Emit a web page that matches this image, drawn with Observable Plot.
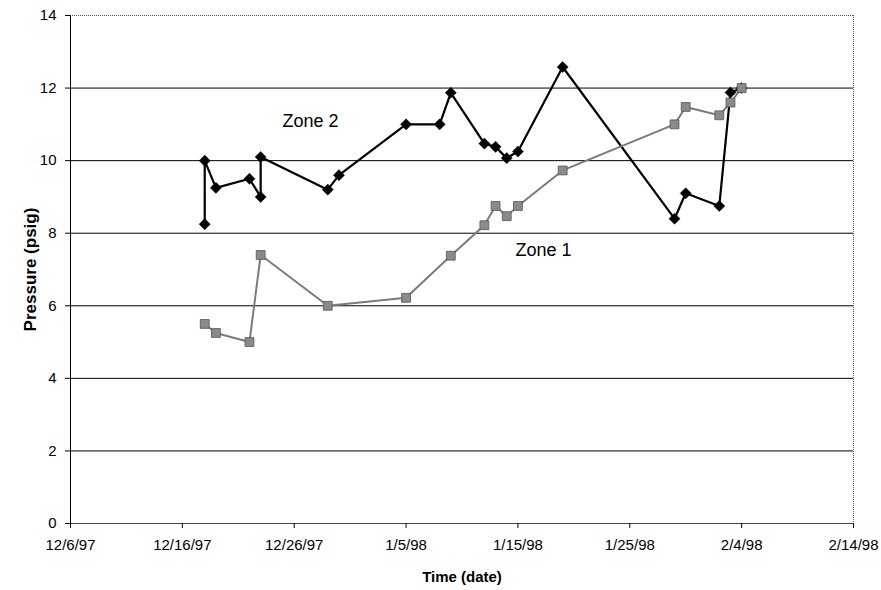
<!DOCTYPE html>
<html><head><meta charset="utf-8">
<script src="https://cdn.jsdelivr.net/npm/d3@7"></script>
<script src="https://cdn.jsdelivr.net/npm/@observablehq/plot@0.6"></script>
<style>body{margin:0;background:#fff}#chart svg{display:block}</style>
</head><body><div id="chart"></div>
<script>
// Zone 2 (black diamonds)
const zone2Dates = ["1997-12-18","1997-12-18","1997-12-19","1997-12-22","1997-12-23","1997-12-23","1997-12-29","1997-12-30","1998-01-05","1998-01-08","1998-01-09","1998-01-12","1998-01-13","1998-01-14","1998-01-15","1998-01-19","1998-01-29","1998-01-30","1998-02-02","1998-02-03","1998-02-04"];
const zone2Pressure = [8.25,10.0,9.25,9.5,9.0,10.1,9.2,9.6,11.0,11.0,11.87,10.47,10.38,10.07,10.25,12.58,8.4,9.1,8.75,11.88,12.0];
// Zone 1 (gray squares)
const zone1Dates = ["1997-12-18","1997-12-19","1997-12-22","1997-12-23","1997-12-29","1998-01-05","1998-01-09","1998-01-12","1998-01-13","1998-01-14","1998-01-15","1998-01-19","1998-01-29","1998-01-30","1998-02-02","1998-02-03","1998-02-04"];
const zone1Pressure = [5.5,5.25,5.0,7.4,6.0,6.22,7.38,8.22,8.75,8.47,8.75,9.73,11.0,11.48,11.25,11.6,12.0];
// Axis ticks
const xTickDates = ["1997-12-06","1997-12-16","1997-12-26","1998-01-05","1998-01-15","1998-01-25","1998-02-04","1998-02-14"];
const yTicks = [0,2,4,6,8,10,12,14];
const gridValues = [2,4,6,8,10,12];
// Series labels
const labelNames = ["Zone 2","Zone 1"];
const labelDates = ["1997-12-27T11:00","1998-01-17T07:00"];
const labelPressure = [11.08,7.52];

const parse = d3.utcParse("%Y-%m-%d");
const parseT = d3.utcParse("%Y-%m-%dT%H:%M");
const zone2 = zone2Dates.map((d,i)=>({date: parse(d), p: zone2Pressure[i]}));
const zone1 = zone1Dates.map((d,i)=>({date: parse(d), p: zone1Pressure[i]}));
const labels = labelNames.map((n,i)=>({name:n, date: parseT(labelDates[i]), p: labelPressure[i]}));
const xTicks = xTickDates.map(parse);
const xDomain = [xTicks[0], xTicks[xTicks.length-1]];
const fmt = d => `${d.getUTCMonth()+1}/${d.getUTCDate()}/${String(d.getUTCFullYear()).slice(2)}`;

const chart = Plot.plot({
  width: 881, height: 590,
  marginLeft: 70, marginRight: 28, marginTop: 15, marginBottom: 67,
  style: {fontFamily: "'Liberation Sans', Arial, sans-serif", fontSize: "15px", background: "#fff", color: "#000"},
  x: {type: "utc", domain: xDomain},
  y: {domain: [0, 14]},
  marks: [
    Plot.ruleY(gridValues, {stroke: "#000", strokeWidth: 1}),
    Plot.ruleY([14], {stroke: "#555", strokeDasharray: "1,1"}),
    Plot.ruleX([xDomain[1]], {stroke: "#555", strokeDasharray: "1,1"}),
    Plot.ruleY([0], {stroke: "#444"}),
    Plot.ruleX([xDomain[0]], {stroke: "#000"}),
    Plot.axisX({ticks: xTicks, tickFormat: fmt, tickSize: 5, tickPadding: 11, label: null}),
    Plot.axisY({ticks: yTicks, tickSize: 5, tickPadding: 9, label: null}),
    Plot.text(["Time (date)"], {frameAnchor: "bottom", dy: 58, fontWeight: "bold", fontSize: 15}),
    Plot.text(["Pressure (psig)"], {frameAnchor: "left", textAnchor: "middle", dx: -40, rotate: -90, fontWeight: "bold", fontSize: 17}),
    Plot.line(zone2, {x: "date", y: "p", stroke: "#000", strokeWidth: 2.2}),
    Plot.dot(zone2, {x: "date", y: "p", symbol: "diamond2", r: 5, fill: "#000", stroke: "#000", strokeWidth: 0.5}),
    Plot.line(zone1, {x: "date", y: "p", stroke: "#7a7a7a", strokeWidth: 2}),
    Plot.dot(zone1, {x: "date", y: "p", symbol: "square", r: 5, fill: "#8a8a8a", stroke: "#555", strokeWidth: 0.8}),
    Plot.text(labels, {x: "date", y: "p", text: "name", fontSize: 18})
  ]
});
document.getElementById("chart").append(chart);
</script>
</body></html>
